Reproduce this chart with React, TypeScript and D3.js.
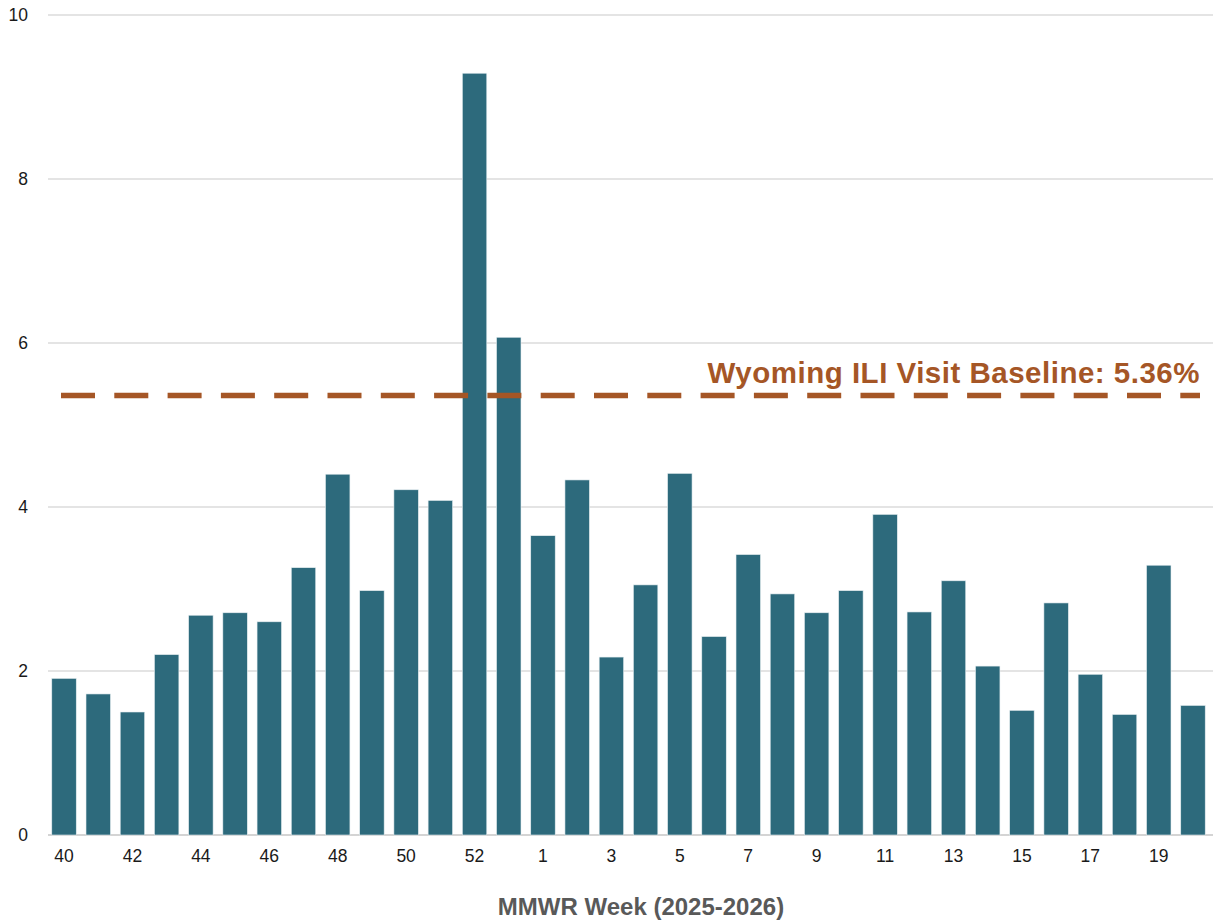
import React from "react";
import * as d3 from "d3";

const weeks: string[] = [
  "40","41","42","43","44","45","46","47","48","49","50","51","52","53",
  "1","2","3","4","5","6","7","8","9","10","11","12","13","14","15","16","17","18","19","20",
];
const iliPercent: number[] = [
  1.91, 1.72, 1.5, 2.2, 2.68, 2.71, 2.6, 3.26, 4.4, 2.98, 4.21, 4.08, 9.29, 6.07,
  3.65, 4.33, 2.17, 3.05, 4.41, 2.42, 3.42, 2.94, 2.71, 2.98, 3.91, 2.72, 3.1, 2.06,
  1.52, 2.83, 1.96, 1.47, 3.29, 1.58,
];
const yTicks: number[] = [0, 2, 4, 6, 8, 10];
const xTickLabels: string[] = [
  "40","42","44","46","48","50","52","1","3","5","7","9","11","13","15","17","19",
];
const baseline = 5.36;
const baselineLabel = "Wyoming ILI Visit Baseline: 5.36%";
const xTitle = "MMWR Week (2025-2026)";

const W = 1214;
const H = 921;
const M = { left: 47, right: 4, top: 15, bottom: 86 };

export default function App() {
  const x = d3
    .scaleBand<string>()
    .domain(weeks)
    .range([M.left, W - M.right])
    .paddingInner(0.285)
    .paddingOuter(0.14);
  const y = d3.scaleLinear().domain([0, 10]).range([H - M.bottom, M.top]);
  const font = "Liberation Sans, Arial, Helvetica, sans-serif";
  const gridX1 = 48;
  const gridX2 = 1213;

  return (
    <svg
      width={W}
      height={H}
      style={{ position: "absolute", left: 0, top: 0, background: "#fff" }}
      fontFamily={font}
    >
      {yTicks.map((t) => (
        <g key={t}>
          <line
            x1={gridX1}
            x2={gridX2}
            y1={y(t)}
            y2={y(t)}
            stroke={t === 0 ? "#c6c6c6" : "#c9c9c9"}
            strokeWidth={t === 0 ? 1.5 : 1}
          />
          <text
            x={28}
            y={y(t)}
            dy="0.35em"
            textAnchor="end"
            fontSize={17.5}
            fill="#1a1a1a"
          >
            {t}
          </text>
        </g>
      ))}
      {weeks.map((w, i) => (
        <rect
          key={w + i}
          x={x(w)!}
          y={y(iliPercent[i])}
          width={x.bandwidth()}
          height={y(0) - y(iliPercent[i])}
          fill="#2d6a7c"
          stroke="#e6eef1"
          strokeWidth={0.6}
        />
      ))}
      {xTickLabels.map((l) => (
        <text
          key={l}
          x={x(l)! + x.bandwidth() / 2}
          y={856}
          dy="0.35em"
          textAnchor="middle"
          fontSize={17.5}
          fill="#1a1a1a"
        >
          {l}
        </text>
      ))}
      <line
        x1={61}
        x2={1200}
        y1={y(baseline)}
        y2={y(baseline)}
        stroke="#a55626"
        strokeWidth={5.5}
        strokeDasharray="34 19.3"
      />
      <text
        x={1200}
        y={383}
        textAnchor="end"
        fontSize={29.5}
        letterSpacing={0.5}
        fontWeight="bold"
        fill="#a55626"
      >
        {baselineLabel}
      </text>
      <text
        x={641}
        y={915}
        textAnchor="middle"
        fontSize={24}
        fontWeight="bold"
        fill="#595959"
      >
        {xTitle}
      </text>
    </svg>
  );
}
